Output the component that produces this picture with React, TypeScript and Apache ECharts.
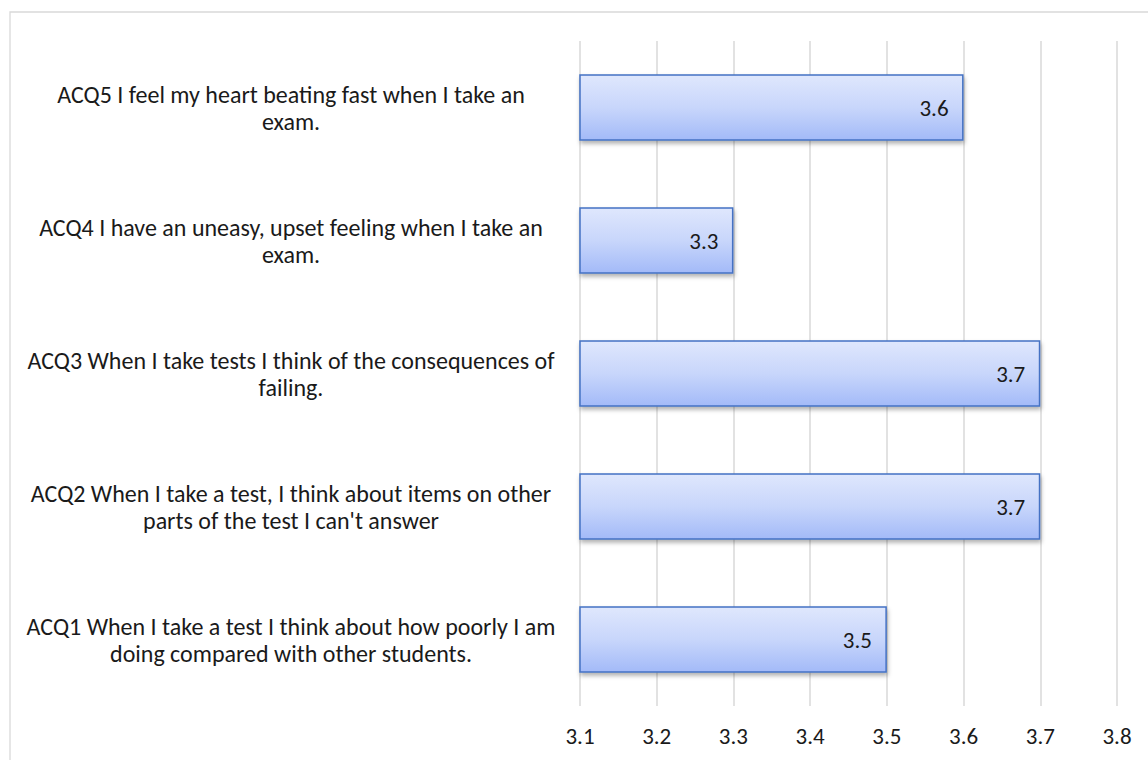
import React, { useEffect, useRef } from "react";
import * as echarts from "echarts";

const categories = [
  "ACQ1 When I take a test I think about how poorly I am\ndoing compared with other students.",
  "ACQ2 When I take a test, I think about items on other\nparts of the test I can't answer",
  "ACQ3 When I take tests I think of the consequences of\nfailing.",
  "ACQ4 I have an uneasy, upset feeling when I take an\nexam.",
  "ACQ5 I feel my heart beating fast when I take an\nexam.",
];
const values = [3.5, 3.7, 3.7, 3.3, 3.6];
const axisMin = 3.1;
const axisMax = 3.8;
const axisStep = 0.1;

const FONT = "Carlito, Lato, 'Open Sans', sans-serif";

export default function App() {
  const ref = useRef<HTMLDivElement>(null);
  useEffect(() => {
    if (!ref.current) return;
    const chart = echarts.init(ref.current, undefined, { renderer: "svg" });
    chart.setOption({
      animation: false,
      backgroundColor: "#ffffff",
      graphic: [
        {
          type: "rect",
          shape: { x: 10, y: 12, width: 1200, height: 800 },
          style: { fill: "none", stroke: "#d9d9d9", lineWidth: 1.3 },
          silent: true,
          z: -10,
        },
      ],
      grid: { left: 580, right: 31, top: 41, bottom: 54, containLabel: false },
      xAxis: {
        type: "value",
        min: axisMin,
        max: axisMax,
        interval: axisStep,
        axisLine: { show: false },
        axisTick: { show: false },
        splitLine: { show: true, lineStyle: { color: "#d9d9d9", width: 1.5 } },
        axisLabel: {
          margin: 18,
          fontSize: 23,
          color: "#1a1a1a",
          fontFamily: FONT,
          formatter: (v: number) => v.toFixed(1),
        },
      },
      yAxis: {
        type: "category",
        data: categories,
        axisLine: { show: false },
        axisTick: { show: false },
        axisLabel: {
          margin: 16,
          fontSize: 24,
          color: "#1a1a1a",
          fontFamily: FONT,
          lineHeight: 27,
          formatter: (v: string) =>
            v
              .split("\n")
              .map((l) => `{a|${l}}`)
              .join("\n"),
          rich: {
            a: {
              width: 546,
              align: "center",
              fontSize: 24,
              lineHeight: 27,
              color: "#1a1a1a",
              fontFamily: FONT,
            },
          },
        },
      },
      series: [
        {
          type: "bar",
          data: values,
          barCategoryGap: "50%",
          itemStyle: {
            color: new echarts.graphic.LinearGradient(0, 0, 0, 1, [
              { offset: 0, color: "#dfe7fd" },
              { offset: 0.5, color: "#c8d6fb" },
              { offset: 1, color: "#a3baf8" },
            ]),
            borderColor: "#4472c4",
            borderWidth: 1.5,
            shadowColor: "rgba(0,0,0,0.3)",
            shadowBlur: 4,
            shadowOffsetY: 3,
            shadowOffsetX: 1,
          },
          label: {
            show: true,
            position: "insideRight",
            distance: 15,
            fontSize: 23,
            color: "#1a1a1a",
            fontFamily: FONT,
            formatter: (p: any) => Number(p.value).toFixed(1),
          },
        },
      ],
    });
    return () => chart.dispose();
  }, []);
  return (
    <div
      ref={ref}
      style={{ position: "absolute", left: 0, top: 0, width: 1148, height: 760 }}
    />
  );
}
